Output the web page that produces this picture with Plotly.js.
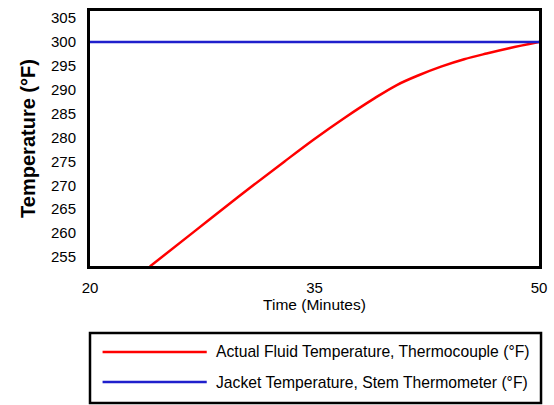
<!DOCTYPE html>
<html><head><meta charset="utf-8">
<script src="https://cdn.plot.ly/plotly-3.0.1.min.js"></script>
<style>body{margin:0;background:#fff}#chart{width:554px;height:405px}</style>
</head><body><div id="chart"></div>
<script>
const fluidTime = [24.0, 27.0, 30.0, 33.0, 35.0, 37.0, 39.0, 40.5, 42.0, 43.5, 45.0, 46.5, 48.0, 50.0];
const fluidTemp = [253.0, 260.4, 267.8, 275.0, 279.7, 284.1, 288.2, 291.0, 293.1, 294.9, 296.4, 297.6, 298.7, 300.0];
const jacketTime = [20, 50];
const jacketTemp = [300, 300];
const xTicks = [20, 35, 50];
const yTicks = [255, 260, 265, 270, 275, 280, 285, 290, 295, 300, 305];
const seriesNames = ['Actual Fluid Temperature, Thermocouple (°F)', 'Jacket Temperature, Stem Thermometer (°F)'];
const seriesColors = ['#ff0000', '#1f1fcc'];

const font = 'Liberation Sans, Arial, Helvetica, sans-serif';
const data = [
  {x: fluidTime, y: fluidTemp, mode: 'lines', name: seriesNames[0],
   line: {color: seriesColors[0], width: 2.5, shape: 'spline', smoothing: 1}},
  {x: jacketTime, y: jacketTemp, mode: 'lines', name: seriesNames[1],
   line: {color: seriesColors[1], width: 2.5}}
];

// Legend drawn in paper coordinates (box below the plot area)
const legendRows = [-0.337, -0.455];
const shapes = [
  {type: 'rect', xref: 'paper', yref: 'paper', x0: 0, x1: 1.0045, y0: -0.537, y1: -0.263,
   line: {color: '#000', width: 2.5}, fillcolor: 'rgba(0,0,0,0)'}
];
const annotations = [];
seriesNames.forEach((n, i) => {
  shapes.push({type: 'line', xref: 'paper', yref: 'paper', x0: 0.028, x1: 0.26,
    y0: legendRows[i], y1: legendRows[i], line: {color: seriesColors[i], width: 2.5}});
  annotations.push({xref: 'paper', yref: 'paper', x: 0.276, y: legendRows[i], xanchor: 'left', yanchor: 'middle',
    text: n, showarrow: false, font: {size: 15.7, color: '#000'}});
});

const layout = {
  width: 554, height: 405,
  margin: {l: 90, r: 15, t: 11, b: 139},
  paper_bgcolor: '#fff', plot_bgcolor: '#fff',
  font: {family: font, color: '#000', size: 15},
  showlegend: false,
  shapes: shapes, annotations: annotations,
  xaxis: {range: [20, 50], tickvals: xTicks, ticktext: xTicks.map(String),
    showgrid: false, zeroline: false, showline: true, mirror: true, linecolor: '#000', linewidth: 3,
    ticks: '', ticklabelstandoff: 6,
    title: {text: 'Time (Minutes)', font: {size: 15.5}, standoff: 4}},
  yaxis: {range: [253.1, 306.5], tickvals: yTicks, ticktext: yTicks.map(String),
    showgrid: false, zeroline: false, showline: true, mirror: true, linecolor: '#000', linewidth: 3,
    ticks: '', ticklabelstandoff: 8,
    title: {text: 'Temperature (°F)', font: {size: 20, weight: 'bold'}, standoff: 10}}
};
Plotly.newPlot('chart', data, layout, {displayModeBar: false, staticPlot: true});
</script></body></html>
